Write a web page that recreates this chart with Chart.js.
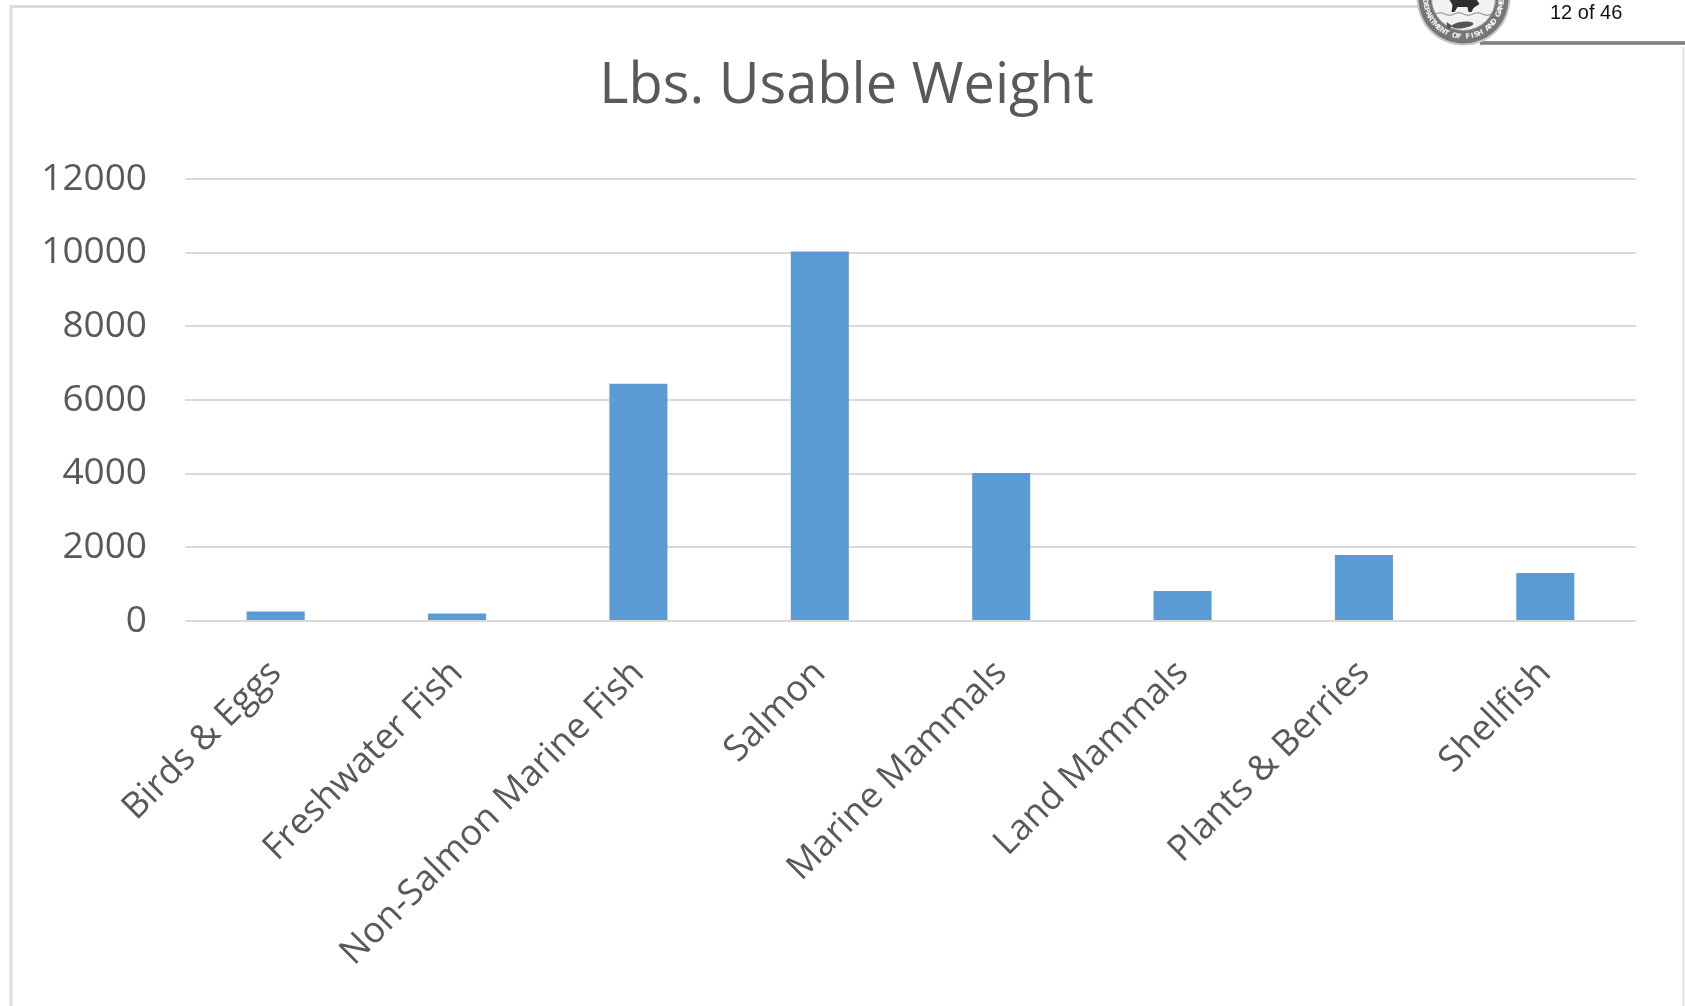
<!DOCTYPE html>
<html>
<head>
<meta charset="utf-8">
<title>Lbs. Usable Weight</title>
<script src="https://cdn.jsdelivr.net/npm/chart.js@4.4.1/dist/chart.umd.min.js"></script>
<style>
  html, body { margin: 0; padding: 0; background: #ffffff; }
  #wrap { width: 1685px; height: 1006px; position: relative; }
  canvas { display: block; }
</style>
</head>
<body>
<div id="wrap"><canvas id="chart" width="1685" height="1006"></canvas></div>
<script>
// Harvest categories and pounds of usable weight
const categories = [
  'Birds & Eggs',
  'Freshwater Fish',
  'Non-Salmon Marine Fish',
  'Salmon',
  'Marine Mammals',
  'Land Mammals',
  'Plants & Berries',
  'Shellfish'
];
const usableWeight = [260, 205, 6440, 10030, 4020, 815, 1790, 1300];
const yTicks = [0, 2000, 4000, 6000, 8000, 10000, 12000];
const chartTitle = 'Lbs. Usable Weight';
const pageLabel = '12 of 46';
const sealText = 'DEPARTMENT OF FISH AND GAME';

const FONT = "'Open Sans', 'DejaVu Sans', sans-serif";
const TEXT_GREY = '#595959';
const GRID_GREY = '#d9d9d9';
const BAR_BLUE = '#5b9bd5';

// Slide frame, chart heading, and the page header (seal and page counter)
const framePlugin = {
  id: 'frame',
  beforeDraw(chart) {
    const ctx = chart.ctx;
    ctx.save();
    ctx.fillStyle = '#ffffff';
    ctx.fillRect(0, 0, chart.width, chart.height);
    ctx.strokeStyle = '#dcdcdc';
    ctx.lineWidth = 3;
    ctx.beginPath();
    ctx.moveTo(11, chart.height);
    ctx.lineTo(11, 6.5);
    ctx.lineTo(1420, 6.5);
    ctx.stroke();
    ctx.lineWidth = 2;
    ctx.strokeStyle = '#e2e2e2';
    ctx.beginPath();
    ctx.moveTo(1683.5, 47);
    ctx.lineTo(1683.5, chart.height);
    ctx.stroke();

    // heading
    ctx.fillStyle = TEXT_GREY;
    ctx.font = '56px ' + FONT;
    ctx.textAlign = 'center';
    ctx.textBaseline = 'alphabetic';
    ctx.fillText(chartTitle, 846.5, 103);
    ctx.restore();
  },
  afterDraw(chart) {
    const ctx = chart.ctx;
    ctx.save();
    // header strip
    ctx.fillStyle = '#ffffff';
    ctx.fillRect(1470, 0, 215, 41);
    const grad = ctx.createLinearGradient(0, 41, 0, 46);
    grad.addColorStop(0, '#9a9494');
    grad.addColorStop(0.5, '#7e7878');
    grad.addColorStop(1, '#d0cccc');
    ctx.fillStyle = grad;
    ctx.fillRect(1480, 41, 205, 4);

    // seal
    const cx = 1463.5, cy = -1.5;
    ctx.beginPath();
    ctx.arc(cx, cy, 47, 0, Math.PI * 2);
    ctx.fillStyle = '#c8c8c8';
    ctx.fill();
    ctx.beginPath();
    ctx.arc(cx, cy, 45, 0, Math.PI * 2);
    ctx.fillStyle = '#767676';
    ctx.fill();
    ctx.beginPath();
    ctx.arc(cx, cy, 32, 0, Math.PI * 2);
    ctx.fillStyle = '#f2f2f2';
    ctx.fill();
    ctx.strokeStyle = '#9a9a9a';
    ctx.lineWidth = 1;
    ctx.stroke();
    // water line
    ctx.beginPath();
    for (let x = cx - 30; x <= cx + 30; x += 1) {
      const y = 14 + Math.sin((x - cx) / 3) * 1.2;
      if (x === cx - 30) ctx.moveTo(x, y); else ctx.lineTo(x, y);
    }
    ctx.strokeStyle = '#777';
    ctx.stroke();
    // moose silhouette
    ctx.fillStyle = '#2f2f2f';
    ctx.beginPath();
    ctx.moveTo(cx - 14, 0);
    ctx.lineTo(cx + 12, -2);
    ctx.lineTo(cx + 16, 4);
    ctx.lineTo(cx + 10, 8);
    ctx.lineTo(cx + 8, 12);
    ctx.lineTo(cx + 5, 12);
    ctx.lineTo(cx + 4, 7);
    ctx.lineTo(cx - 6, 7);
    ctx.lineTo(cx - 9, 12);
    ctx.lineTo(cx - 12, 12);
    ctx.lineTo(cx - 11, 5);
    ctx.closePath();
    ctx.fill();
    // fish
    ctx.fillStyle = '#555';
    ctx.beginPath();
    ctx.ellipse(cx - 1, 25, 11, 3.2, -0.12, 0, Math.PI * 2);
    ctx.fill();
    ctx.beginPath();
    ctx.moveTo(cx - 11, 26);
    ctx.lineTo(cx - 17, 22);
    ctx.lineTo(cx - 16, 30);
    ctx.closePath();
    ctx.fill();
    // ring lettering along the lower arc
    ctx.fillStyle = '#f4f4f4';
    ctx.font = "bold 7px 'DejaVu Sans', sans-serif";
    ctx.textAlign = 'center';
    ctx.textBaseline = 'middle';
    const chars = sealText.split('');
    const span = Math.PI * 0.95;
    const start = Math.PI / 2 + span / 2;
    chars.forEach((ch, i) => {
      const a = start - (span * i) / (chars.length - 1);
      ctx.save();
      ctx.translate(cx + Math.cos(a) * 38.5, cy + Math.sin(a) * 38.5);
      ctx.rotate(a - Math.PI / 2);
      ctx.fillText(ch, 0, 0);
      ctx.restore();
    });

    // page counter
    ctx.fillStyle = '#111111';
    ctx.font = "20px 'Liberation Sans', Arial, sans-serif";
    ctx.textAlign = 'left';
    ctx.textBaseline = 'alphabetic';
    ctx.fillText(pageLabel, 1550, 19);
    ctx.restore();
  }
};

new Chart(document.getElementById('chart'), {
  type: 'bar',
  data: {
    labels: categories,
    datasets: [{
      label: chartTitle,
      data: usableWeight,
      backgroundColor: BAR_BLUE,
      borderWidth: 0,
      categoryPercentage: 1,
      barPercentage: 0.32
    }]
  },
  options: {
    responsive: false,
    animation: false,
    devicePixelRatio: 1,
    layout: { padding: { top: 179, right: 49, bottom: 0, left: 0 } },
    plugins: {
      legend: { display: false },
      tooltip: { enabled: false },
      title: { display: false }
    },
    scales: {
      x: {
        grid: { display: false, drawTicks: false },
        border: { display: false },
        ticks: {
          color: TEXT_GREY,
          font: { family: FONT, size: 36 },
          minRotation: 45,
          maxRotation: 45,
          autoSkip: false,
          padding: 31
        },
        afterFit(scale) { scale.height = 385; }
      },
      y: {
        min: 0,
        max: 12000,
        afterBuildTicks(scale) { scale.ticks = yTicks.map(v => ({ value: v })); },
        grid: { color: GRID_GREY, lineWidth: 2, drawTicks: false },
        border: { display: false },
        ticks: {
          color: TEXT_GREY,
          font: { family: FONT, size: 37 },
          padding: 38,
          callback: (v) => String(v)
        },
        afterFit(scale) { scale.width = 185; }
      }
    }
  },
  plugins: [framePlugin]
});
</script>
</body>
</html>
